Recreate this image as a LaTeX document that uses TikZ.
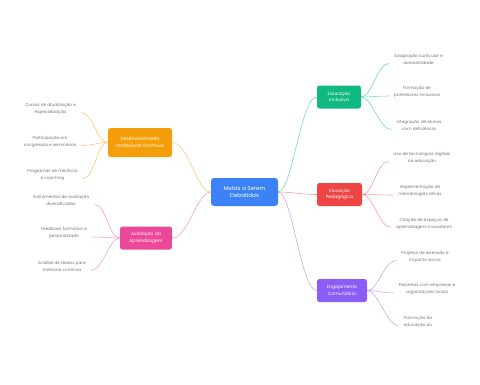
\documentclass[tikz,border=0pt]{standalone}
\usepackage{fontspec}
\setmainfont{Poppins}
\definecolor{cblue}{HTML}{3B82F6}
\definecolor{cgreen}{HTML}{10B981}
\definecolor{cred}{HTML}{EF4444}
\definecolor{cpurple}{HTML}{8B5CF6}
\definecolor{corange}{HTML}{F59E0B}
\definecolor{cpink}{HTML}{EC4899}
\definecolor{leafgray}{HTML}{6B7280}
\colorlet{lgreen}{cgreen!60!white}
\colorlet{lred}{cred!55!white}
\colorlet{lpurple}{cpurple!55!white}
\colorlet{lorange}{corange!60!white}
\colorlet{lpink}{cpink!55!white}
\begin{document}
\begin{tikzpicture}[x=1pt,y=-1pt,
  mainbox/.style={fill=cblue, rounded corners=3pt, text=white, align=center,
    font=\fontsize{5.6}{7.4}\selectfont, minimum width=67pt, minimum height=28pt, inner sep=0pt},
  branchbox/.style={rounded corners=2.5pt, text=white, align=center,
    font=\fontsize{4.5}{6.6}\selectfont, minimum height=23pt, inner sep=0pt},
  leaftext/.style={text=leafgray, align=center, font=\fontsize{4.2}{7}\selectfont,
    inner xsep=5pt, inner ysep=1pt},
  link/.style={line width=0.55pt}
]
\useasboundingbox (0,0) rectangle (480,384);

% central node
\node[mainbox] (c) at (244.5,192) {Metas a Serem\\Debatidas};

% branches
\node[branchbox, fill=cgreen, minimum width=44pt] (edu) at (339,97) {Educação\\Inclusiva};
\node[branchbox, fill=cred, minimum width=45pt] (ino) at (339.5,194.5) {Inovação\\Pedagógica};
\node[branchbox, fill=cpurple, minimum width=50pt] (eng) at (342,290.5) {Engajamento\\Comunitário};
\node[branchbox, fill=corange, minimum width=64pt, minimum height=29pt] (dev) at (140,142.5) {Desenvolvimento\\Profissional Contínuo};
\node[branchbox, fill=cpink, minimum width=52pt] (ava) at (146,238) {Avaliação da\\Aprendizagem};

% leaves right
\node[leaftext] (e1) at (418.5,59.5) {Adaptação curricular e\\acessibilidade};
\node[leaftext] (e2) at (417,92) {Formação de\\professores inclusivos};
\node[leaftext] (e3) at (419,125.5) {Integração de alunos\\com deficiência};
\node[leaftext] (i1) at (422,157.5) {Uso de tecnologias digitais\\na educação};
\node[leaftext] (i2) at (420,191) {Implementação de\\metodologias ativas};
\node[leaftext] (i3) at (424,223.5) {Criação de espaços de\\aprendizagem inovadores};
\node[leaftext] (g1) at (425,256.5) {Projetos de extensão e\\impacto social};
\node[leaftext] (g2) at (427,289) {Parcerias com empresas e\\organizações locais};
\node[leaftext] (g3) at (418,321.5) {Promoção da\\educação ao};

% leaves left
\node[leaftext] (d1) at (50.5,108.5) {Cursos de atualização e\\especialização};
\node[leaftext] (d2) at (50,141.5) {Participação em\\congressos e seminários};
\node[leaftext] (d3) at (52.5,174.5) {Programas de mentoria\\e coaching};
\node[leaftext] (a1) at (61,200.5) {Instrumentos de avaliação\\diversificados};
\node[leaftext] (a2) at (64,233) {Feedback formativo e\\personalizado};
\node[leaftext] (a3) at (62,266.5) {Análise de dados para\\melhoria contínua};

% center to branches
\draw[link, lgreen] (c.east) .. controls +(14,0) and +(-16,0) .. (edu.west);
\draw[link, lred] (c.east) .. controls +(14,0) and +(-16,0) .. (ino.west);
\draw[link, lpurple] (c.east) .. controls +(14,0) and +(-16,0) .. (eng.west);
\draw[link, lorange] (c.west) .. controls +(-14,0) and +(16,0) .. (dev.east);
\draw[link, lpink] (c.west) .. controls +(-14,0) and +(16,0) .. (ava.east);

% branches to leaves (right)
\foreach \b/\l/\col in {edu/e1/lgreen, edu/e2/lgreen, edu/e3/lgreen,
                        ino/i1/lred, ino/i2/lred, ino/i3/lred,
                        eng/g1/lpurple, eng/g2/lpurple, eng/g3/lpurple}
  \draw[link, \col] (\b.east) .. controls +(11,0) and +(-12,0) .. ([yshift=-4pt]\l.west);

% branches to leaves (left)
\foreach \b/\l/\col in {dev/d1/lorange, dev/d2/lorange, dev/d3/lorange,
                        ava/a1/lpink, ava/a2/lpink, ava/a3/lpink}
  \draw[link, \col] (\b.west) .. controls +(-11,0) and +(12,0) .. ([yshift=-4pt]\l.east);
\end{tikzpicture}
\end{document}
